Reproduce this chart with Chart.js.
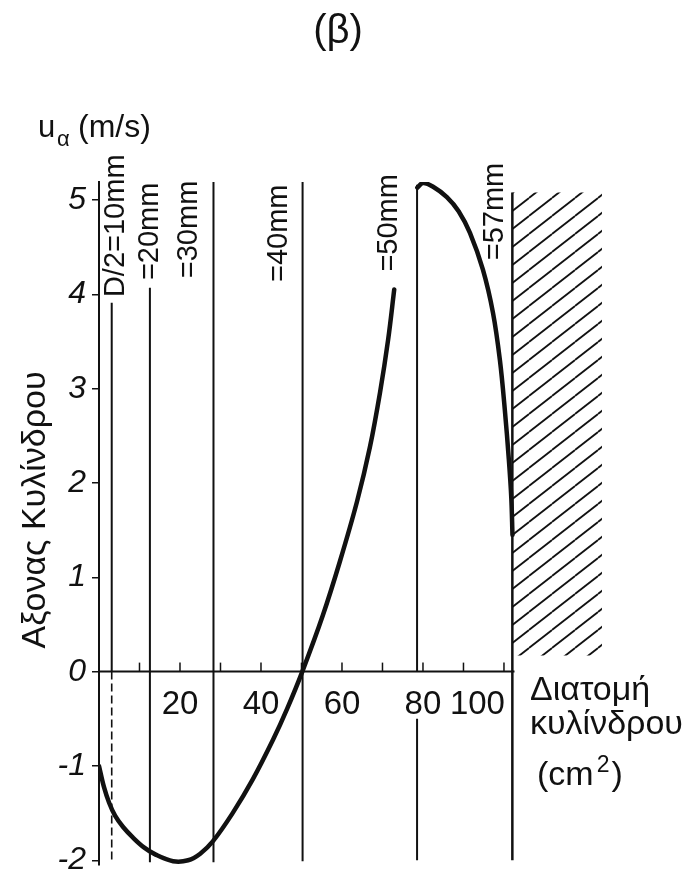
<!DOCTYPE html>
<html><head><meta charset="utf-8">
<script src="https://cdn.jsdelivr.net/npm/chart.js@4/dist/chart.umd.min.js"></script>
<style>html,body{margin:0;padding:0;background:#fff}canvas{display:block}</style>
</head><body>
<canvas id="c" width="695" height="879"></canvas>
<script>
// ---- data ----
const curveAx = [0, 1.2, 2.5, 4.0, 6.0, 8.4, 11.0, 14.0, 18.3, 22.0, 25.0, 28.1, 33.0, 38.0, 43.0, 46.5, 50.2, 55.3, 59.5, 63.7, 66.9, 69.4, 71.4, 72.9];
const curveAy = [-1.00, -1.22, -1.39, -1.53, -1.65, -1.76, -1.86, -1.94, -2.01, -2.00, -1.93, -1.80, -1.50, -1.14, -0.72, -0.39, 0.00, 0.60, 1.17, 1.80, 2.38, 2.96, 3.52, 4.05];
const curveBx = [78.6, 80.0, 82.5, 85.9, 88.8, 91.6, 94.8, 97.3, 99.0, 100.2, 101.2, 101.8, 102.1];
const curveBy = [5.13, 5.18, 5.14, 5.03, 4.88, 4.65, 4.26, 3.80, 3.30, 2.78, 2.25, 1.85, 1.45];
const radiusLabels = ['D/2=10mm', '=20mm', '=30mm', '=40mm', '=50mm', '=57mm'];
const radiusArea = [3.14, 12.57, 28.27, 50.27, 78.54, 102.07];
const radiusTop = [3.91, 4.07, 5.21, 5.23, 5.16, 5.08];
const radiusBottom = [-2.02, -2.02, -2.02, -2.01, -2.0, -2.0];
const radiusGap = [null, null, null, null, [0, -0.5], null];
const radiusLabelStart = [3.97, 4.15, 4.17, 4.13, 4.24, 4.36];
const hatchX = [102.07, 124.2];
const hatchTop = 5.08, hatchBottom = 0.17;
const xAxisEnd = 102.6;
const xTickValues = [10, 20, 30, 40, 50, 60, 70, 80, 90, 100];
const xLabelValues = [20, 40, 60, 80, 100];
const yTickValues = [-2, -1, 0, 1, 2, 3, 4, 5];
const titleText = '(β)';
const yTitle = 'Αξονας Κυλίνδρου';
const xTitleLines = ['Διατομή', 'κυλίνδρου'];

// ---- layout / style (not data) ----
const FONT = '"Liberation Sans", Arial, sans-serif';
const INK = '#111';
const labelDx = [12, 8, -16, -16, -20, -9];
const dashedBelowZero = [true, false, false, false, false, false];

function makeHatch() {
  const W = 23, H = 18;
  const c = document.createElement('canvas'); c.width = W; c.height = H;
  const g = c.getContext('2d');
  g.strokeStyle = INK; g.lineWidth = 1.8;
  for (let n = -1; n <= 1; n++) { g.beginPath(); g.moveTo(0, H + n * H); g.lineTo(W, n * H); g.stroke(); }
  return g.createPattern(c, 'repeat');
}

const datasets = [];
const curveStyle = { showLine: true, borderColor: INK, borderWidth: 4.5, pointRadius: 0, tension: 0.35, borderCapStyle: 'round', borderJoinStyle: 'round', fill: false };
datasets.push(Object.assign({ data: curveAx.map((x, i) => ({ x, y: curveAy[i] })) }, curveStyle));
datasets.push(Object.assign({ data: curveBx.map((x, i) => ({ x, y: curveBy[i] })) }, curveStyle));
radiusArea.forEach((a, i) => {
  const base = { showLine: true, spanGaps: false, borderColor: INK, borderWidth: i === radiusArea.length - 1 ? 2.5 : 2, pointRadius: 0, fill: false };
  let pts;
  if (dashedBelowZero[i]) {
    datasets.push(Object.assign({ data: [{ x: a, y: radiusTop[i] }, { x: a, y: 0 }] }, base));
    datasets.push(Object.assign({ data: [{ x: a, y: 0 }, { x: a, y: radiusBottom[i] }], borderDash: [8, 4] }, base, { borderWidth: 1.6 }));
    return;
  }
  if (radiusGap[i]) pts = [{ x: a, y: radiusTop[i] }, { x: a, y: radiusGap[i][0] }, { x: a, y: null }, { x: a, y: radiusGap[i][1] }, { x: a, y: radiusBottom[i] }];
  else pts = [{ x: a, y: radiusTop[i] }, { x: a, y: radiusBottom[i] }];
  datasets.push(Object.assign({ data: pts }, base));
});
datasets.push({ data: hatchX.map(x => ({ x, y: hatchTop })), showLine: true, borderColor: 'rgba(0,0,0,0)', borderWidth: 1, pointRadius: 0, fill: { value: hatchBottom }, backgroundColor: makeHatch() });

const deco = {
  id: 'deco',
  beforeDatasetsDraw(chart) {
    const { ctx, scales: { x, y } } = chart;
    const y0 = y.getPixelForValue(0);
    ctx.save();
    ctx.strokeStyle = INK; ctx.lineWidth = 2;
    ctx.beginPath(); ctx.moveTo(x.getPixelForValue(0), y0); ctx.lineTo(x.getPixelForValue(xAxisEnd), y0); ctx.stroke();
    ctx.lineWidth = 1.5;
    xTickValues.forEach(v => { const px = x.getPixelForValue(v); ctx.beginPath(); ctx.moveTo(px, y0); ctx.lineTo(px, y0 - 9); ctx.stroke(); });
    ctx.restore();
  },
  afterDatasetsDraw(chart) {
    const { ctx, scales: { x, y } } = chart;
    const y0 = y.getPixelForValue(0);
    ctx.save();
    ctx.fillStyle = INK;
    // x tick labels
    ctx.font = '33px ' + FONT; ctx.textBaseline = 'alphabetic';
    xLabelValues.forEach((v, i) => {
      const px = x.getPixelForValue(v);
      if (i === xLabelValues.length - 1) { ctx.textAlign = 'right'; ctx.fillText(String(v), px + 1, y0 + 42); }
      else { ctx.textAlign = 'center'; ctx.fillText(String(v), px, y0 + 42); }
    });
    // radius labels (rotated)
    ctx.font = '29px ' + FONT; ctx.textAlign = 'left'; ctx.textBaseline = 'alphabetic';
    radiusLabels.forEach((t, i) => {
      ctx.save();
      ctx.translate(x.getPixelForValue(radiusArea[i]) + labelDx[i], y.getPixelForValue(radiusLabelStart[i]));
      ctx.rotate(-Math.PI / 2);
      ctx.fillText(t, 0, 0);
      ctx.restore();
    });
    // y title
    ctx.save();
    ctx.font = '34px ' + FONT; ctx.textAlign = 'center'; ctx.textBaseline = 'alphabetic';
    ctx.translate(45, 510); ctx.rotate(-Math.PI / 2); ctx.fillText(yTitle, 0, 0);
    ctx.restore();
    // u_a (m/s)
    ctx.textAlign = 'left'; ctx.textBaseline = 'alphabetic';
    ctx.font = '31px ' + FONT; ctx.fillText('u', 38, 137);
    ctx.font = '22px ' + FONT; ctx.fillText('α', 57, 146);
    ctx.font = '32px ' + FONT; ctx.fillText('(m/s)', 78, 137);
    // x title
    ctx.font = '34px ' + FONT;
    ctx.fillText(xTitleLines[0], 530, 700);
    ctx.fillText(xTitleLines[1], 530, 734);
    let cx = 537;
    ctx.fillText('(cm', cx, 785); cx += ctx.measureText('(cm').width + 3;
    ctx.font = '23px ' + FONT; ctx.fillText('2', cx, 772); cx += ctx.measureText('2').width + 2;
    ctx.font = '34px ' + FONT; ctx.fillText(')', cx, 785);
    // title
    ctx.font = '40px ' + FONT; ctx.textAlign = 'center';
    ctx.fillText(titleText, 338, 43);
    ctx.restore();
  }
};

new Chart(document.getElementById('c'), {
  type: 'scatter',
  data: { datasets },
  options: {
    responsive: false, animation: false, devicePixelRatio: 1,
    layout: { padding: { left: 59, right: 91, top: 182, bottom: 14 } },
    plugins: { legend: { display: false }, tooltip: { enabled: false } },
    scales: {
      x: { type: 'linear', min: 0, max: 124.7, display: false },
      y: {
        type: 'linear', min: -2.05, max: 5.19,
        afterFit(s) { s.width = 40; s.paddingTop = 0; s.paddingBottom = 0; },
        afterBuildTicks(s) { s.ticks = yTickValues.map(v => ({ value: v })); },
        border: { display: true, color: INK, width: 2 },
        grid: { display: true, drawOnChartArea: false, drawTicks: true, tickLength: 7, color: INK, lineWidth: 1.5 },
        ticks: { color: INK, padding: 6, font: { family: FONT, style: 'italic', size: 32 } }
      }
    }
  },
  plugins: [deco]
});
</script>
</body></html>
